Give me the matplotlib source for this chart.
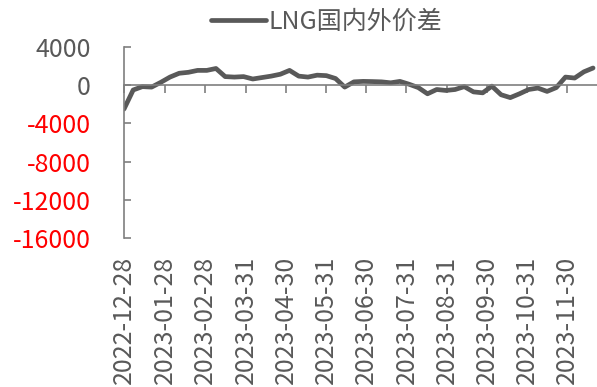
import matplotlib
matplotlib.use("Agg")
import matplotlib.pyplot as plt
import numpy as np
import pandas as pd

plt.rcParams['font.family'] = ['Noto Sans CJK SC', 'DejaVu Sans']

# Weekly LNG domestic-vs-international price spread
dates = pd.date_range("2022-12-28", periods=52, freq="7D")
spread = [-2500, -500, -150, -200, 300, 850, 1250, 1350, 1550, 1550,
          1750, 900, 850, 900, 650, 800, 950, 1150, 1550, 950,
          850, 1050, 1000, 700, -200, 350, 400, 380, 350, 250,
          400, 100, -250, -900, -450, -550, -450, -150, -700, -800,
          -100, -1000, -1300, -900, -450, -300, -650, -250, 850, 750,
          1400, 1800]

tick_dates = pd.to_datetime(["2022-12-28", "2023-01-28", "2023-02-28", "2023-03-31",
                             "2023-04-30", "2023-05-31", "2023-06-30", "2023-07-31",
                             "2023-08-31", "2023-09-30", "2023-10-31", "2023-11-30"])
tick_labels = [d.strftime("%Y-%m-%d") for d in tick_dates]
y_ticks = [4000, 0, -4000, -8000, -12000, -16000]
series_name = "LNG国内外价差"

gray = "#595959"
axis_gray = "#7f7f7f"

fig = plt.figure(figsize=(5.97, 3.87), dpi=100)
ax = fig.add_axes([124 / 597, 1 - 238 / 387, 1 - 124 / 597, (238 - 47) / 387])

line, = ax.plot(dates, spread, color=gray, lw=3.4, solid_joinstyle="round",
                solid_capstyle="round", label=series_name)

ax.set_ylim(-16000, 4000)
ax.set_xlim(pd.Timestamp("2022-12-28"), pd.Timestamp("2023-12-23"))
ax.set_yticks(y_ticks)
ax.set_yticklabels([f"{v}" for v in y_ticks])
for lbl, v in zip(ax.get_yticklabels(), y_ticks):
    lbl.set_color(gray if v >= 0 else "#ff0000")
ax.tick_params(axis="y", direction="in", length=5, width=1.2, color=axis_gray,
               labelsize=18, pad=24)

ax.spines["top"].set_visible(False)
ax.spines["right"].set_visible(False)
ax.spines["left"].set_color(axis_gray)
ax.spines["left"].set_linewidth(1.2)
ax.spines["bottom"].set_position(("data", 0))
ax.spines["bottom"].set_color(axis_gray)
ax.spines["bottom"].set_linewidth(1.2)
ax.set_xticks(tick_dates)
ax.tick_params(axis="x", direction="out", length=6, width=1.2, color=axis_gray,
               labelbottom=False)

sec = ax.secondary_xaxis(0.0)
sec.set_xticks(tick_dates)
sec.set_xticklabels(tick_labels, rotation=90, color=gray, fontsize=18)
sec.tick_params(axis="x", length=0, pad=13)
sec.spines["bottom"].set_visible(False)

fig.legend(handles=[line], loc="center", bbox_to_anchor=(0.547, 0.945),
           frameon=False, fontsize=18, handlelength=2.2, handletextpad=0.1,
           labelcolor=gray)

fig.savefig("out.png", dpi=100)
